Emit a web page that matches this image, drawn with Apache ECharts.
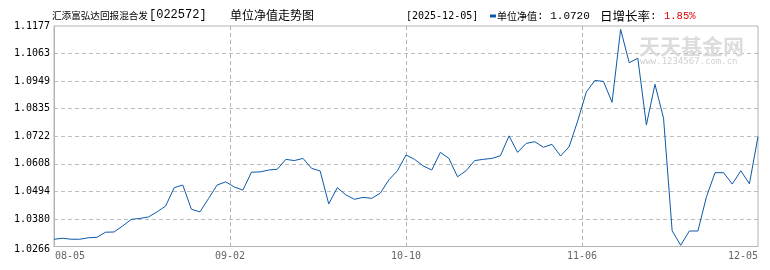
<!DOCTYPE html>
<html><head><meta charset="utf-8">
<script src="https://cdn.jsdelivr.net/npm/echarts@6.0.0/dist/echarts.min.js"></script>
<style>html,body{margin:0;padding:0;background:#fff}#c{width:770px;height:270px}</style>
</head><body><div id="c"></div>
<script>
const xTickLabels = ['08-05', '09-02', '10-10', '11-06', '12-05'];
const yTickLabels = ['1.0266', '1.0380', '1.0494', '1.0608', '1.0722', '1.0835', '1.0949', '1.1063', '1.1177'];
const navValues = [
  1.0296, 1.0300, 1.0296, 1.0296, 1.0302, 1.0304, 1.0325, 1.0326, 1.0351, 1.0378,
  1.0382, 1.0388, 1.0409, 1.0433, 1.0509, 1.0520, 1.0420, 1.0409, 1.0464, 1.0520,
  1.0533, 1.0512, 1.0499, 1.0573, 1.0574, 1.0582, 1.0585, 1.0626, 1.0621, 1.0630,
  1.0589, 1.0578, 1.0442, 1.0509, 1.0479, 1.0461, 1.0469, 1.0465, 1.0486, 1.0541,
  1.0579, 1.0644, 1.0626, 1.0599, 1.0582, 1.0655, 1.0630, 1.0554, 1.0579, 1.0621,
  1.0626, 1.0630, 1.0641, 1.0723, 1.0655, 1.0692, 1.0699, 1.0676, 1.0688, 1.0640,
  1.0678, 1.0785, 1.0904, 1.0952, 1.0948, 1.0862, 1.1163, 1.1025, 1.1044, 1.0768,
  1.0936, 1.0796, 1.0331, 1.0271, 1.0330, 1.0330, 1.0472, 1.0571, 1.0571, 1.0524,
  1.0579, 1.0525, 1.0720
];
const yMin = 1.0266, yMax = 1.1177;
const fundName = '汇添富弘达回报混合发';
const fundCode = '[022572]';
const chartTitle = '单位净值走势图';
const lastDate = '[2025-12-05]';
const navText = ': 1.0720';
const changeText = '1.85%';

const lastIndex = navValues.length - 1;
const xInterval = lastIndex / (xTickLabels.length - 1);
const MONO = '"DejaVu Sans Mono", monospace';
const LMONO = '"Liberation Mono", monospace';
const CJK = '"Noto Sans CJK SC", sans-serif';
const LINE = '#0c59a8';

const chart = echarts.init(document.getElementById('c'), null, {renderer: 'canvas'});
function txt(x, y, text, size, family, fill, extra) {
  return Object.assign({type: 'text', x: x, y: y, z: 100,
    style: {text: text, fontSize: size, fontFamily: family, fill: fill, verticalAlign: 'middle'}}, extra || {});
}
const option = {
  animation: false,
  grid: {left: 54, right: 12, top: 26, bottom: 23.5, show: true, borderColor: '#b4b4b4', borderWidth: 1},
  xAxis: {
    type: 'value', min: 0, max: lastIndex, interval: xInterval,
    axisLine: {show: true, lineStyle: {color: '#b4b4b4'}},
    axisTick: {show: false},
    splitLine: {show: true, showMinLine: false, showMaxLine: false, lineStyle: {color: '#b4b4b4', type: [4, 3]}},
    axisLabel: {
      show: true, showMinLabel: true, showMaxLabel: true, margin: 5, color: '#666', fontFamily: MONO, fontSize: 10,
      formatter: function (v) {
        const i = Math.round(v / xInterval);
        const t = xTickLabels[i];
        if (i === 0) return '{l|' + t + '}';
        if (i === xTickLabels.length - 1) return '{r|' + t + '}';
        return t;
      },
      rich: {
        l: {padding: [0, 0, 0, 32], fontFamily: MONO, fontSize: 10, color: '#666'},
        r: {padding: [0, 30, 0, 0], fontFamily: MONO, fontSize: 10, color: '#666'}
      }
    }
  },
  yAxis: [{
    type: 'category', data: yTickLabels, boundaryGap: false,
    axisLine: {show: true, lineStyle: {color: '#b4b4b4'}},
    axisTick: {show: false},
    splitLine: {show: true, interval: 0, showMinLine: false, showMaxLine: false, lineStyle: {color: '#bcbcbc', type: [4, 3]}},
    axisLabel: {
      interval: 0, margin: 4, color: '#000', fontFamily: MONO, fontSize: 10,
      formatter: function (v, i) { return i === 0 ? '{b|' + v + '}' : v; },
      rich: {b: {padding: [5, 0, 0, 0], fontFamily: MONO, fontSize: 10, color: '#000'}}
    }
  }, {
    type: 'value', min: yMin, max: yMax, show: false
  }],
  series: [{
    type: 'line', xAxisIndex: 0, yAxisIndex: 1,
    data: navValues.map(function (v, i) { return [i, v]; }),
    showSymbol: false, symbol: 'none',
    lineStyle: {color: LINE, width: 1}, itemStyle: {color: LINE}
  }],
  graphic: [
    txt(639, 46, '天天基金网', 21, CJK, '#dadada', {z: 1, style: {text: '天天基金网', fontSize: 21, fontWeight: 'bold', fontFamily: CJK, fill: '#dcdcdc', verticalAlign: 'middle'}}),
    txt(640, 61.5, 'www.1234567.com.cn', 9, MONO, '#d0d0d0', {z: 1}),
    txt(52, 15, fundName, 9.6, CJK, '#000'),
    txt(149, 15, fundCode, 12, LMONO, '#000'),
    txt(230, 15, chartTitle, 12, CJK, '#000'),
    txt(406, 16, lastDate, 10, MONO, '#000'),
    {type: 'rect', z: 100, shape: {x: 490, y: 14.5, width: 6, height: 3}, style: {fill: LINE}},
    txt(497, 16, '单位净值', 10, CJK, '#000'),
    txt(537, 16, navText, 11, LMONO, '#000'),
    txt(600, 16, '日增长率', 12.5, CJK, '#000'),
    txt(650, 16, ':', 11, LMONO, '#000'),
    txt(664, 16, changeText, 10.5, LMONO, '#e00000')
  ]
};
chart.setOption(option);
</script>
</body></html>
